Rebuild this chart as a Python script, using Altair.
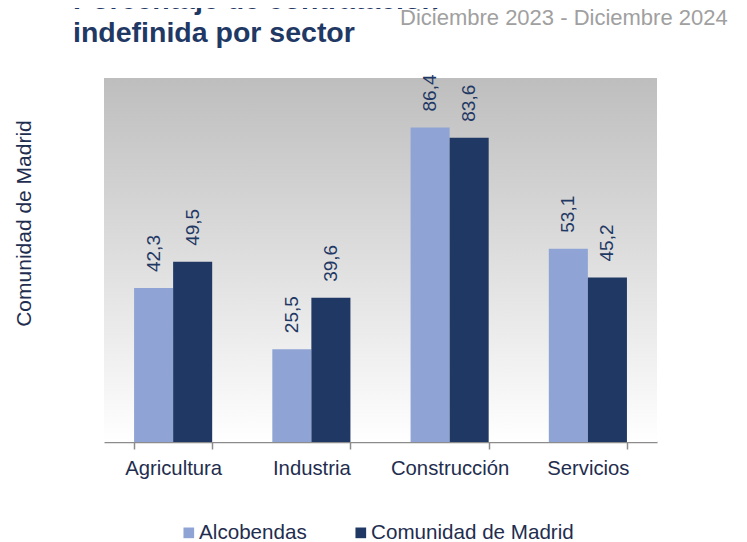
import altair as alt
import pandas as pd

categorias = ["Agricultura", "Industria", "Construcción", "Servicios"]
series = ["Alcobendas", "Comunidad de Madrid"]
alcobendas = [42.3, 25.5, 86.4, 53.1]
madrid = [49.5, 39.6, 83.6, 45.2]
colores = ["#8FA4D5", "#1F3864"]
titulo = "Porcentaje de contratación\nindefinida por sector"
subtitulo_txt = "Diciembre 2023 - Diciembre 2024"
eje_y_titulo = "Comunidad  de Madrid"

rows = []
for i, c in enumerate(categorias):
    rows.append({"sector": c, "serie": series[0], "valor": alcobendas[i]})
    rows.append({"sector": c, "serie": series[1], "valor": madrid[i]})
df = pd.DataFrame(rows)

FONT = "Liberation Sans"
NAVY = "#1F2D4F"

bg = alt.Chart(alt.Data(values=[{"k": 1}])).mark_rect(
    fill=alt.Gradient(
        gradient="linear", x1=0, y1=0, x2=0, y2=1,
        stops=[alt.GradientStop(offset=0, color="#BEBEBE"),
               alt.GradientStop(offset=1, color="#FFFFFF")],
    )
).encode(x=alt.value(0), x2=alt.value("width"), y=alt.value(0), y2=alt.value("height"))

x_enc = alt.X(
    "sector:N", sort=categorias, title=None,
    scale=alt.Scale(paddingInner=0.435, paddingOuter=0.2175),
    axis=alt.Axis(labelAngle=0, labelFont=FONT, labelFontSize=20.3, labelColor=NAVY,
                  labelPadding=9, tickBand="extent", tickSize=7, tickColor="#8C8C8C",
                  tickWidth=1.5, domainColor="#8C8C8C", domainWidth=1.5, grid=False),
)
y_enc = alt.Y(
    "valor:Q", scale=alt.Scale(domain=[0, 100]),
    axis=alt.Axis(title=eje_y_titulo, labels=False, ticks=False, domain=False,
                  grid=False, titleAngle=270, titleX=-80, titleY=145, titleAlign="center",
                  titleBaseline="middle", titleFont=FONT, titleFontSize=21,
                  titleFontWeight="normal", titleColor=NAVY),
)

bars = alt.Chart(df).mark_bar().encode(
    x=x_enc,
    xOffset=alt.XOffset("serie:N", sort=series),
    y=y_enc,
    color=alt.Color(
        "serie:N", sort=series,
        scale=alt.Scale(domain=series, range=colores),
        legend=alt.Legend(title=None, orient="none", legendX=74.5, legendY=444.5,
                          direction="horizontal",
                          symbolType="square", symbolSize=114, symbolStrokeWidth=0,
                          labelFont=FONT, labelFontSize=20.6, labelColor=NAVY,
                          labelLimit=400, columnPadding=43, labelOffset=0, padding=0),
    ),
)

labels = alt.Chart(df).transform_calculate(
    etiqueta="replace(format(datum.valor, '.1f'), '.', ',')"
).mark_text(
    angle=270, align="left", baseline="middle", dx=16, font=FONT, fontSize=19, color="#1F3864"
).encode(
    x=alt.X("sector:N", sort=categorias),
    xOffset=alt.XOffset("serie:N", sort=series),
    y=alt.Y("valor:Q"),
    text="etiqueta:N",
)

subtitulo = alt.Chart(alt.Data(values=[{"t": subtitulo_txt}])).mark_text(
    align="left", baseline="alphabetic", font=FONT, fontSize=22, color="#A0A0A0"
).encode(x=alt.value(296), y=alt.value(-53), text="t:N")

titulo_mark = alt.Chart(alt.Data(values=[{"t": titulo}])).mark_text(
    align="left", baseline="alphabetic", font=FONT, fontSize=28.5, fontWeight="bold",
    color="#1F3864", lineBreak="\n", lineHeight=33
).encode(x=alt.value(-31), y=alt.value(-69), text="t:N")

chart = alt.layer(bg, bars, labels, subtitulo, titulo_mark).properties(
    width=553, height=364,
    autosize=alt.AutoSizeParams(type="none"),
    padding={"left": 96, "top": 70, "right": 82, "bottom": 110},
).configure_view(stroke=None)

chart.save("out.html", embed_options={"renderer": "svg", "actions": False})
